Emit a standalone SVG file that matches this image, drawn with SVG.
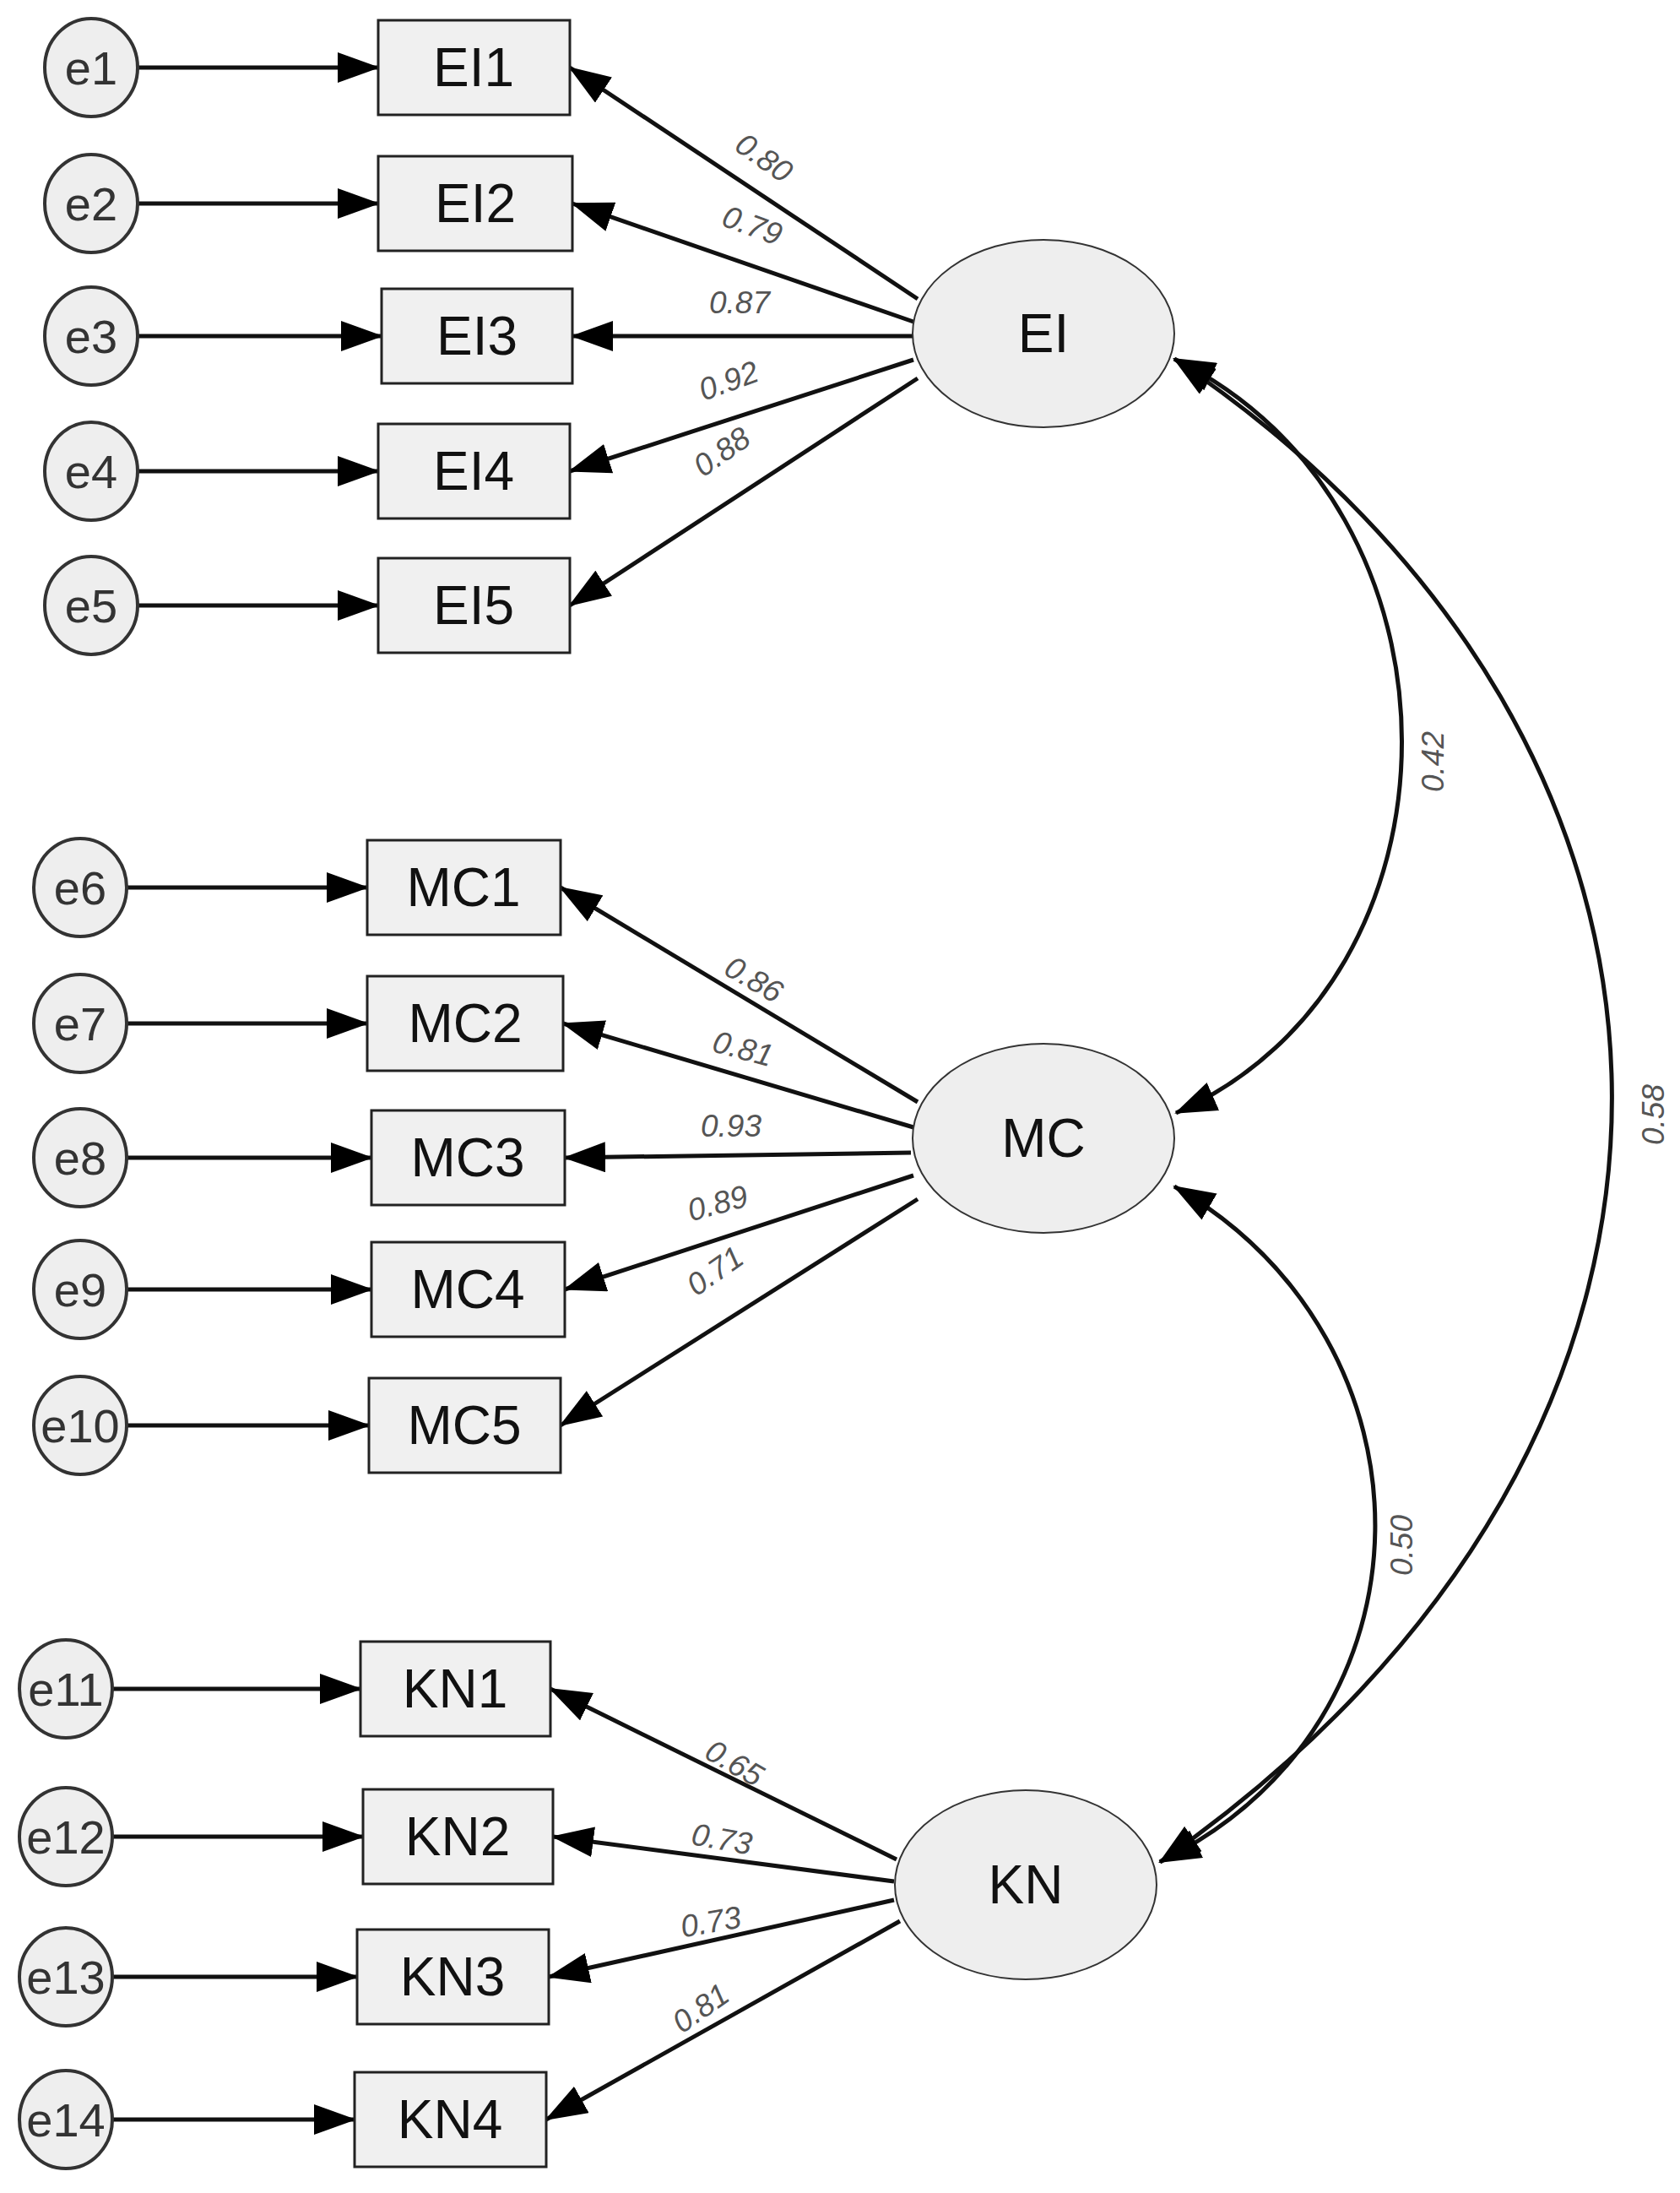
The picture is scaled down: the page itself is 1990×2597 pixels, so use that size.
<svg xmlns="http://www.w3.org/2000/svg" width="1990" height="2597" viewBox="0 0 1990 2597">
<style>
.e{fill:#eee;stroke:#333;stroke-width:4}
.b{fill:#f0f0f0;stroke:#222;stroke-width:3}
.l{fill:#eee;stroke:#333;stroke-width:2}
.t{font-family:"Liberation Sans",Arial,sans-serif;fill:#111;text-anchor:middle;dominant-baseline:central}
.et{font-size:56px;fill:#333}
.bt{font-size:64px}
.lt{font-size:64px}
.n{font-family:"Liberation Sans",Arial,sans-serif;font-size:37px;fill:#555;text-anchor:middle;dominant-baseline:central;font-style:italic}
.c path,.c line{stroke:#111;stroke-width:5;fill:none;marker-end:url(#a)}
.c .d{marker-start:url(#s)}
</style>
<defs>
<marker id="a" markerUnits="userSpaceOnUse" markerWidth="50" markerHeight="36" refX="48" refY="18" orient="auto"><path d="M0,0 L50,18 L0,36 Z" fill="#000"/></marker>
<marker id="s" markerUnits="userSpaceOnUse" markerWidth="50" markerHeight="36" refX="2" refY="18" orient="auto"><path d="M50,0 L0,18 L50,36 Z" fill="#000"/></marker>
</defs>
<rect width="1990" height="2597" fill="#fff"/>
<g class="c">
<line x1="163" y1="80" x2="448" y2="80"/><line x1="163" y1="241" x2="448" y2="241"/><line x1="163" y1="398" x2="452" y2="398"/><line x1="163" y1="558" x2="448" y2="558"/><line x1="163" y1="717" x2="448" y2="717"/>
<line x1="150" y1="1051" x2="435" y2="1051"/><line x1="150" y1="1212" x2="435" y2="1212"/><line x1="150" y1="1371" x2="440" y2="1371"/><line x1="150" y1="1527" x2="440" y2="1527"/><line x1="150" y1="1688" x2="437" y2="1688"/>
<line x1="133" y1="2000" x2="427" y2="2000"/><line x1="133" y1="2175" x2="430" y2="2175"/><line x1="133" y1="2341" x2="423" y2="2341"/><line x1="133" y1="2510" x2="420" y2="2510"/>
<line x1="1087" y1="354" x2="675" y2="80"/><line x1="1082" y1="381" x2="678" y2="241"/><line x1="1082" y1="398" x2="678" y2="398"/><line x1="1082" y1="426" x2="675" y2="558"/><line x1="1087" y1="448" x2="675" y2="717"/>
<line x1="1087" y1="1305" x2="664" y2="1051"/><line x1="1082" y1="1335" x2="667" y2="1212"/><line x1="1079" y1="1365" x2="669" y2="1371"/><line x1="1082" y1="1392" x2="669" y2="1527"/><line x1="1087" y1="1420" x2="664" y2="1688"/>
<line x1="1062" y1="2202" x2="652" y2="2000"/><line x1="1059" y1="2228" x2="655" y2="2175"/><line x1="1059" y1="2250" x2="650" y2="2341"/><line x1="1066" y1="2275" x2="647" y2="2510"/>
<path class="d" d="M1391,425 C1750,600 1750,1160 1393,1318"/>
<path class="d" d="M1391,1405 C1711,1590 1711,2040 1374,2205"/>
<path class="d" d="M1391,425 C2070,880 2100,1700 1374,2205"/>
</g>
<g id="labels">
<text class="n" transform="translate(905,187) rotate(35)">0.80</text>
<text class="n" transform="translate(891,267) rotate(20)">0.79</text>
<text class="n" transform="translate(876,358)">0.87</text>
<text class="n" transform="translate(863,451) rotate(-20)">0.92</text>
<text class="n" transform="translate(855,535) rotate(-35)">0.88</text>
<text class="n" transform="translate(893,1160) rotate(30)">0.86</text>
<text class="n" transform="translate(880,1242) rotate(15)">0.81</text>
<text class="n" transform="translate(866,1333)">0.93</text>
<text class="n" transform="translate(850,1425) rotate(-15)">0.89</text>
<text class="n" transform="translate(847,1505) rotate(-35)">0.71</text>
<text class="n" transform="translate(870,2088) rotate(30)">0.65</text>
<text class="n" transform="translate(855,2178) rotate(10)">0.73</text>
<text class="n" transform="translate(842,2276) rotate(-10)">0.73</text>
<text class="n" transform="translate(830,2378) rotate(-35)">0.81</text>
<text class="n" transform="translate(1697,902) rotate(-90)">0.42</text>
<text class="n" transform="translate(1660,1830) rotate(-90)">0.50</text>
<text class="n" transform="translate(1958,1320) rotate(-90)">0.58</text>
</g>
<g id="EI"><ellipse class="l" cx="1236" cy="395" rx="155" ry="111"/><text class="t lt" x="1236" y="395">EI</text></g>
<g id="MC"><ellipse class="l" cx="1236" cy="1362" rx="155" ry="112" transform="translate(0,-14)"/><text class="t lt" x="1236" y="1348">MC</text></g>
<g id="KN"><ellipse class="l" cx="1215" cy="2232" rx="155" ry="112"/><text class="t lt" x="1215" y="2232">KN</text></g>
<g id="EI1"><rect class="b" x="448" y="24" width="227" height="112"/><text class="t bt" x="561" y="80">EI1</text></g>
<g id="EI2"><rect class="b" x="448" y="185" width="230" height="112"/><text class="t bt" x="563" y="241">EI2</text></g>
<g id="EI3"><rect class="b" x="452" y="342" width="226" height="112"/><text class="t bt" x="565" y="398">EI3</text></g>
<g id="EI4"><rect class="b" x="448" y="502" width="227" height="112"/><text class="t bt" x="561" y="558">EI4</text></g>
<g id="EI5"><rect class="b" x="448" y="661" width="227" height="112"/><text class="t bt" x="561" y="717">EI5</text></g>
<g id="MC1"><rect class="b" x="435" y="995" width="229" height="112"/><text class="t bt" x="549" y="1051">MC1</text></g>
<g id="MC2"><rect class="b" x="435" y="1156" width="232" height="112"/><text class="t bt" x="551" y="1212">MC2</text></g>
<g id="MC3"><rect class="b" x="440" y="1315" width="229" height="112"/><text class="t bt" x="554" y="1371">MC3</text></g>
<g id="MC4"><rect class="b" x="440" y="1471" width="229" height="112"/><text class="t bt" x="554" y="1527">MC4</text></g>
<g id="MC5"><rect class="b" x="437" y="1632" width="227" height="112"/><text class="t bt" x="550" y="1688">MC5</text></g>
<g id="KN1"><rect class="b" x="427" y="1944" width="225" height="112"/><text class="t bt" x="539" y="2000">KN1</text></g>
<g id="KN2"><rect class="b" x="430" y="2119" width="225" height="112"/><text class="t bt" x="542" y="2175">KN2</text></g>
<g id="KN3"><rect class="b" x="423" y="2285" width="227" height="112"/><text class="t bt" x="536" y="2341">KN3</text></g>
<g id="KN4"><rect class="b" x="420" y="2454" width="227" height="112"/><text class="t bt" x="533" y="2510">KN4</text></g>
<g id="e1"><ellipse class="e" cx="108" cy="80" rx="55" ry="58"/><text class="t et" x="108" y="80">e1</text></g>
<g id="e2"><ellipse class="e" cx="108" cy="241" rx="55" ry="58"/><text class="t et" x="108" y="241">e2</text></g>
<g id="e3"><ellipse class="e" cx="108" cy="398" rx="55" ry="58"/><text class="t et" x="108" y="398">e3</text></g>
<g id="e4"><ellipse class="e" cx="108" cy="558" rx="55" ry="58"/><text class="t et" x="108" y="558">e4</text></g>
<g id="e5"><ellipse class="e" cx="108" cy="717" rx="55" ry="58"/><text class="t et" x="108" y="717">e5</text></g>
<g id="e6"><ellipse class="e" cx="95" cy="1051" rx="55" ry="58"/><text class="t et" x="95" y="1051">e6</text></g>
<g id="e7"><ellipse class="e" cx="95" cy="1212" rx="55" ry="58"/><text class="t et" x="95" y="1212">e7</text></g>
<g id="e8"><ellipse class="e" cx="95" cy="1371" rx="55" ry="58"/><text class="t et" x="95" y="1371">e8</text></g>
<g id="e9"><ellipse class="e" cx="95" cy="1527" rx="55" ry="58"/><text class="t et" x="95" y="1527">e9</text></g>
<g id="e10"><ellipse class="e" cx="95" cy="1688" rx="55" ry="58"/><text class="t et" x="95" y="1688">e10</text></g>
<g id="e11"><ellipse class="e" cx="78" cy="2000" rx="55" ry="58"/><text class="t et" x="78" y="2000">e11</text></g>
<g id="e12"><ellipse class="e" cx="78" cy="2175" rx="55" ry="58"/><text class="t et" x="78" y="2175">e12</text></g>
<g id="e13"><ellipse class="e" cx="78" cy="2341" rx="55" ry="58"/><text class="t et" x="78" y="2341">e13</text></g>
<g id="e14"><ellipse class="e" cx="78" cy="2510" rx="55" ry="58"/><text class="t et" x="78" y="2510">e14</text></g>
</svg>
